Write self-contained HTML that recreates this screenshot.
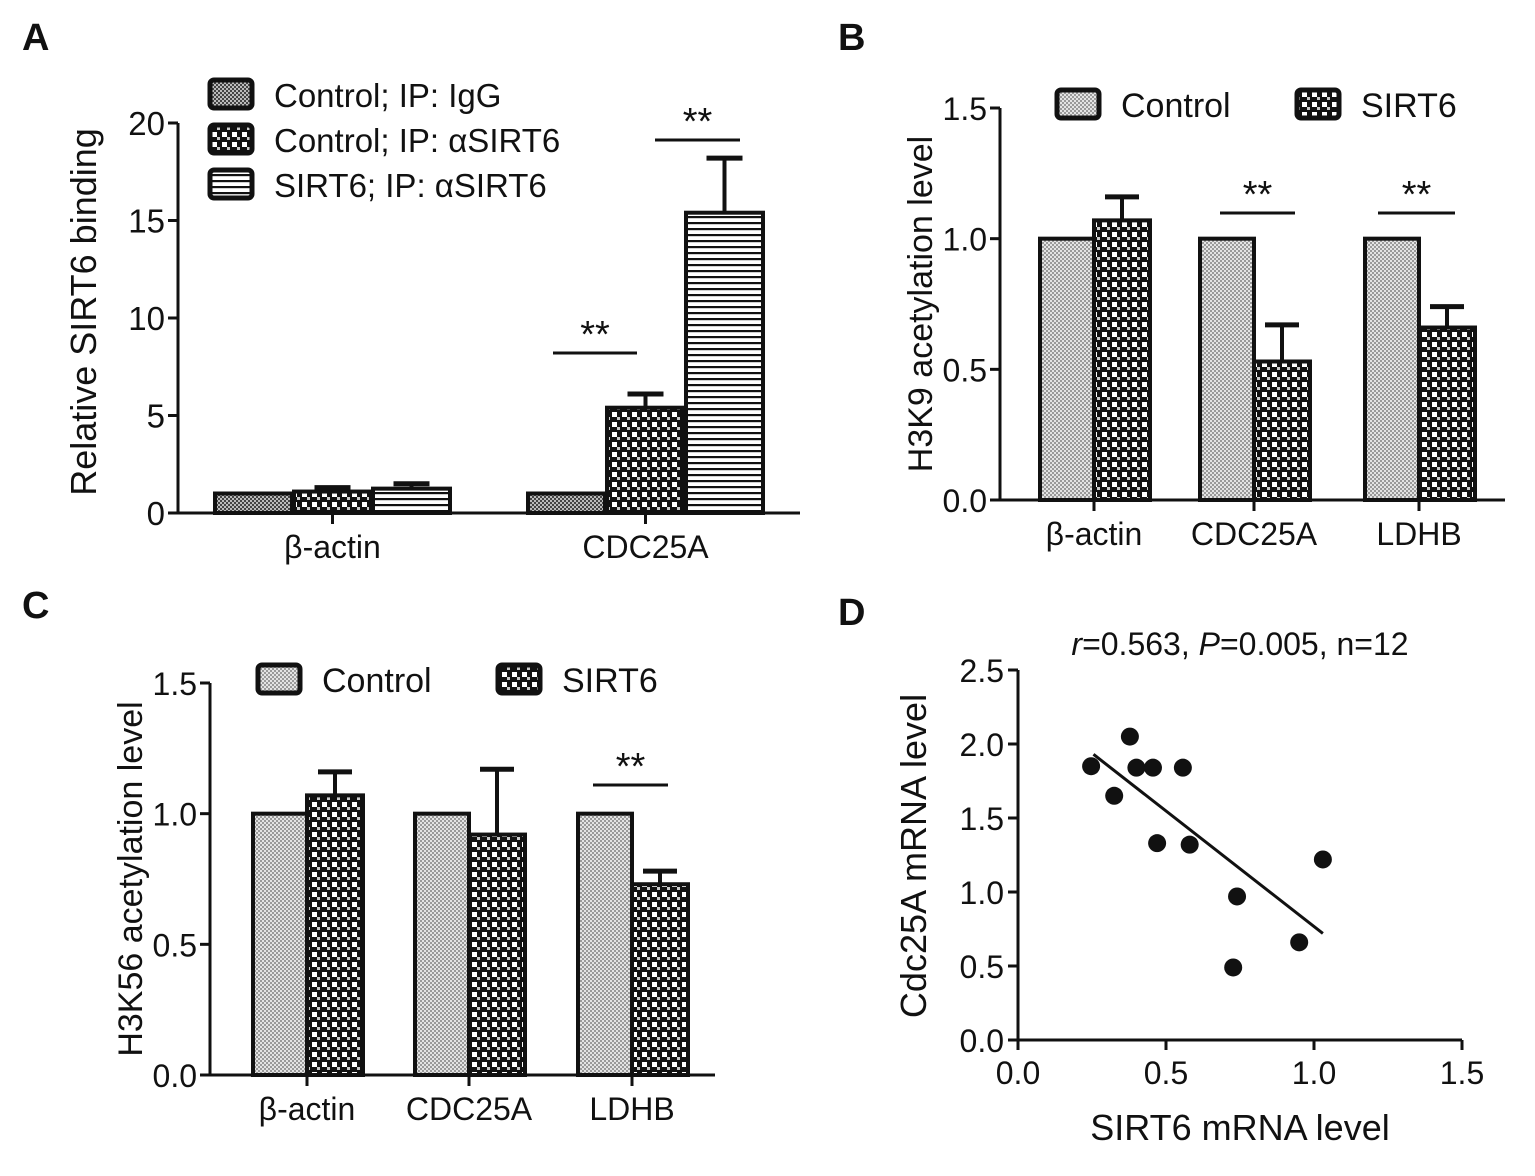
<!DOCTYPE html>
<html><head><meta charset="utf-8"><style>
html,body{margin:0;padding:0;background:#fff}
svg{display:block}
text{font-family:"Liberation Sans",sans-serif;fill:#111}
</style></head><body>
<svg id="fig" width="1535" height="1176" viewBox="0 0 1535 1176" xmlns="http://www.w3.org/2000/svg">
<defs>
<pattern id="pDots" width="4" height="4" patternUnits="userSpaceOnUse"><rect width="4" height="4" fill="#e4e4e4"/><rect width="2" height="2" fill="#9a9a9a"/><rect x="2" y="2" width="2" height="2" fill="#9a9a9a"/></pattern>
<pattern id="pIgG" width="4" height="4" patternUnits="userSpaceOnUse"><rect width="4" height="4" fill="#bbb"/><rect width="2" height="2" fill="#444"/><rect x="2" y="2" width="2" height="2" fill="#444"/></pattern>
<pattern id="pCheck" width="10" height="10" patternUnits="userSpaceOnUse"><rect width="10" height="10" fill="#111"/><rect x="2" y="2" width="5" height="5" fill="#fff"/><rect x="7" y="7" width="3" height="3" fill="#ccc"/></pattern>
<pattern id="pStripe" width="6" height="6" patternUnits="userSpaceOnUse"><rect width="6" height="6" fill="#fff"/><rect width="6" height="2.2" fill="#111"/></pattern>
</defs>
<g id="root"></g>
</svg>
<script>
// Panel A data
const aCats = ["β-actin","CDC25A"];
const aSeries = ["Control; IP: IgG","Control; IP: αSIRT6","SIRT6; IP: αSIRT6"];
const aIgG = [1.0, 1.0];
const aCtrlSirt = [1.1, 5.4];
const aSirtSirt = [1.25, 15.4];
const aErrCtrlSirt = [1.3, 6.1];
const aErrSirtSirt = [1.5, 18.2];
const aTicks = [0,5,10,15,20];
// Panel B data
const bCats = ["β-actin","CDC25A","LDHB"];
const bControl = [1.0, 1.0, 1.0];
const bSirt6 = [1.07, 0.53, 0.66];
const bErr = [1.16, 0.67, 0.74];
const hTicks = ["0.0","0.5","1.0","1.5"];
// Panel C data
const cCats = ["β-actin","CDC25A","LDHB"];
const cControl = [1.0, 1.0, 1.0];
const cSirt6 = [1.07, 0.92, 0.73];
const cErr = [1.16, 1.17, 0.78];
// Panel D data
const dX = [0.247,0.378,0.40,0.456,0.557,0.325,0.47,0.58,0.74,0.727,0.95,1.03];
const dY = [1.85,2.05,1.84,1.84,1.84,1.65,1.33,1.32,0.97,0.49,0.66,1.22];
const dFitX = [0.255,1.03];
const dFitY = [1.93,0.72];
const dXTicks = ["0.0","0.5","1.0","1.5"];
const dYTicks = ["0.0","0.5","1.0","1.5","2.0","2.5"];

const NS="http://www.w3.org/2000/svg";
const root=document.getElementById('root');
function el(tag,attrs,parent,txt){const e=document.createElementNS(NS,tag);for(const k in attrs)e.setAttribute(k,attrs[k]);if(txt!==undefined)e.textContent=txt;(parent||root).appendChild(e);return e;}
function line(x1,y1,x2,y2,w,p){return el('line',{x1,y1,x2,y2,stroke:'#111','stroke-width':w||3},p);}
function lin(d0,d1,r0,r1){return v=>r0+(v-d0)/(d1-d0)*(r1-r0);}

[["A",22,50],["B",838,50],["C",22,618],["D",838,625]].forEach(([t,x,y])=>{
 const e=el('text',{x,y,'font-size':38,'font-weight':'bold'},root,t);
 
 
});

function yAxis(g,x,y0,y1,ticks,sc,fs){
 line(x,y0,x,y1,3,g);
 ticks.forEach(t=>{const y=sc(+t);line(x-10,y,x,y,3,g);
  const tx=el('text',{x:x-13,y:y+12,'font-size':fs,'text-anchor':'end'},g,t);
  
  });
}
function bar(g,x,w,yTop,yBase,fill,name){
 const r=el('rect',{x,y:yTop,width:w,height:yBase-yTop,fill,stroke:'#111','stroke-width':4},g);
 
 
}
function err(g,cx,yTop,yErr,hw){line(cx,yTop,cx,yErr,4,g);line(cx-hw,yErr,cx+hw,yErr,5,g);}
function sig(g,x1,x2,y){line(x1,y,x2,y,3,g);const s=el('text',{x:(x1+x2)/2,y:y-6,'font-size':38,'text-anchor':'middle',fill:'#444'},g,'**');
 
 }
function legBox(g,x,y,fill,label,fs){
 const r=el('rect',{x,y,width:42,height:28,rx:4,fill,stroke:'#111','stroke-width':5},g);
 
 
 const t=el('text',{x:x+64,y:y+27,'font-size':fs},g,label);
 
 
}

// ---------- Panel A ----------
(function(){
 const g=el('g',{});
 const ys=lin(0,20,513,123);
 yAxis(g,178,513,123,aTicks.map(String),ys,33);
 line(178,513,800,513,3,g);
 const groupStart=[215,528], bw=77, gap=2;
 aCats.forEach((c,i)=>{
  const x0=groupStart[i];
  bar(g,x0,bw,ys(aIgG[i]),513,'url(#pIgG)','bar-igg-'+i);
  bar(g,x0+bw+gap,bw,ys(aCtrlSirt[i]),513,'url(#pCheck)','bar-control-sirt6-'+i);
  bar(g,x0+2*(bw+gap),bw,ys(aSirtSirt[i]),513,'url(#pStripe)','bar-sirt6-sirt6-'+i);
  err(g,x0+bw+gap+bw/2,ys(aCtrlSirt[i]),ys(aErrCtrlSirt[i]),18);
  err(g,x0+2*(bw+gap)+bw/2,ys(aSirtSirt[i]),ys(aErrSirtSirt[i]),18);
  const cx=x0+1.5*bw+gap;line(cx,513,cx,524,3,g);
  const t=el('text',{x:cx,y:558,'font-size':32,'text-anchor':'middle'},g,c);
  
 });
 sig(g,553,637,353);sig(g,655,740,140);
 const yt=el('text',{x:0,y:0,'font-size':36,'text-anchor':'middle',transform:'translate(96,312) rotate(-90)'},g,'Relative SIRT6 binding');
 
 legBox(g,210,80,'url(#pIgG)',aSeries[0],33);
 legBox(g,210,125,'url(#pCheck)',aSeries[1],33);
 legBox(g,210,170,'url(#pStripe)',aSeries[2],33);
})();

function histPanel(name,axX,base,top,starts,cats,ctrl,sirt,errs,sigs,title,titleX,legY,leg1X,leg2X,xEnd){
 const g=el('g',{});
 const ys=lin(0,1.5,base,top);
 yAxis(g,axX,base,top,hTicks,ys,32);
 line(axX,base,xEnd,base,3,g);
 const bw=54;
 cats.forEach((c,i)=>{
  const x0=starts[i];
  bar(g,x0,bw,ys(ctrl[i]),base,'url(#pDots)','bar-control-'+i);
  bar(g,x0+bw,bw+2,ys(sirt[i]),base,'url(#pCheck)','bar-sirt6-'+i);
  err(g,x0+bw+bw/2+1,ys(sirt[i]),ys(errs[i]),17);
  line(x0+bw,base,x0+bw,base+11,3,g);
  const t=el('text',{x:x0+bw,y:base+45,'font-size':32,'text-anchor':'middle'},g,c);
  
 });
 sigs.forEach(([a,b,y])=>sig(g,a,b,y));
 const yt=el('text',{x:0,y:0,'font-size':34,'text-anchor':'middle',transform:`translate(${titleX},${(base+top)/2}) rotate(-90)`},g,title);
 
 legBox(g,leg1X,legY,'url(#pDots)','Control',34);
 legBox(g,leg2X,legY,'url(#pCheck)','SIRT6',34);
}
histPanel('panel-b-chart',1000,500,108,[1040,1200,1365],bCats,bControl,bSirt6,bErr,[[1220,1295,213],[1378,1455,213]],'H3K9 acetylation level',932,90,1057,1297,1505);
histPanel('panel-c-chart',210,1075,683,[253,415,578],cCats,cControl,cSirt6,cErr,[[593,668,785]],'H3K56 acetylation level',142,665,258,498,715);

// ---------- Panel D ----------
(function(){
 const g=el('g',{});
 const xs=lin(0,1.5,1018,1462), ys=lin(0,2.5,1040,670);
 line(1018,1040,1018,670,3,g);
 dYTicks.forEach(t=>{const y=ys(+t);line(1008,y,1018,y,3,g);
  const tx=el('text',{x:1004,y:y+12,'font-size':32,'text-anchor':'end'},g,t);
  });
 line(1018,1040,1462,1040,3,g);
 dXTicks.forEach(t=>{const x=xs(+t);line(x,1040,x,1050,3,g);
  const tx=el('text',{x,y:1084,'font-size':32,'text-anchor':'middle'},g,t);
  });
 dX.forEach((v,i)=>{const c=el('circle',{cx:xs(v),cy:ys(dY[i]),r:9,fill:'#111'},g);
  });
 const fl=el('line',{x1:xs(dFitX[0]),y1:ys(dFitY[0]),x2:xs(dFitX[1]),y2:ys(dFitY[1]),stroke:'#111','stroke-width':3},g);
 
 const tt=el('text',{x:1240,y:655,'font-size':32,'text-anchor':'middle'},g);
 
 tt.innerHTML='<tspan font-style="italic">r</tspan>=0.563, <tspan font-style="italic">P</tspan>=0.005, n=12';
 const xt=el('text',{x:1240,y:1140,'font-size':36,'text-anchor':'middle'},g,'SIRT6 mRNA level');
 
 const yt=el('text',{x:0,y:0,'font-size':36,'text-anchor':'middle',transform:'translate(926,856) rotate(-90)'},g,'Cdc25A mRNA level');
 
})();
</script>
</body></html>
